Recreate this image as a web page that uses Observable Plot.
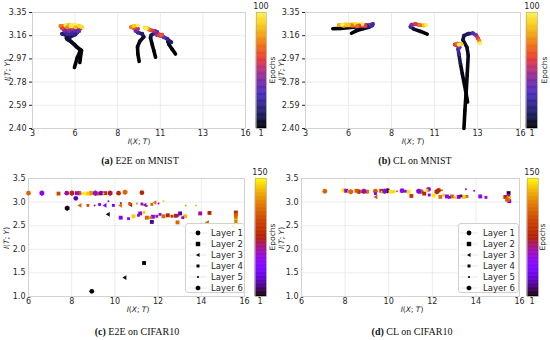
<!DOCTYPE html>
<html><head><meta charset="utf-8">
<script src="https://cdn.jsdelivr.net/npm/d3@7"></script>
<script src="https://cdn.jsdelivr.net/npm/@observablehq/plot@0.6"></script>
<style>
body{margin:0;background:#fff;}
#root{position:relative;width:550px;height:340px;overflow:hidden;font-family:"DejaVu Sans",sans-serif;background:#fff;}
.t{position:absolute;white-space:nowrap;transform:translate(-50%,-50%);color:#262626;line-height:1;}
.cap{font-family:"Liberation Serif",serif;font-size:10px;color:#111;}
.lg{position:absolute;border:1px solid #d0d0d0;border-radius:3px;background:rgba(255,255,255,0.9);box-sizing:border-box;}
.lgrow{position:absolute;left:0;width:100%;height:11px;font-size:8.5px;color:#262626;}
.lgrow span{white-space:nowrap;line-height:1;}
</style></head>
<body><div id="root"></div>
<script>
// ---------- tick labels ----------
const abXTicks = [3, 5.6, 8.2, 10.8, 13.4, 16];
const abYTicks = [2.40, 2.59, 2.78, 2.97, 3.16, 3.35];
const cdXTicks = [6, 8, 10, 12, 14, 16];
const cdYTicks = [1.0, 1.5, 2.0, 2.5, 3.0, 3.5];
const layerNames = ["Layer 1", "Layer 2", "Layer 3", "Layer 4", "Layer 5", "Layer 6"];
const captions = [["(a)", " E2E on MNIST"], ["(b)", " CL on MNIST"], ["(c)", " E2E on CIFAR10"], ["(d)", " CL on CIFAR10"]];

// ---------- (a) E2E on MNIST : trajectories ----------
const aLayer = [1,1,1,1,1,1,1,1,1,1,1,1,1,1,1,1,1,1,1,1,1,1,1,
  2,2,2,2,2,2,2,2,2,2,2,2,2,2,2,2,
  3,3,3,3,3,3,3,3,3,3,3,3,3,
  4,4,4,4,4,4,4,4,4,4,4,4,4,4,
  5,5,5,5,5,5,5,5,5,5,5,5];
const aX = [5.56,5.73,5.93,5.62,5.28,5.07,5.12,4.81,5.42,5.73,5.01,4.91,5.42,5.93,5.73,4.81,4.71,5.22,5.83,6.03,5.42,5.01,5.63,
  5.89,5.95,5.99,5.68,5.36,5.12,5.32,5.62,5.12,5.83,5.22,4.81,5.12,5.63,5.93,5.32,
  9.51,9.43,9.41,9.55,9.79,9.69,9.43,9.29,9.43,9.18,9.02,9.18,9.43,
  10.51,10.40,10.30,10.20,10.24,10.44,10.61,10.50,10.36,10.22,10.10,10.00,9.86,9.95,
  11.73,11.52,11.32,11.26,11.46,11.22,11.01,10.81,10.61,10.73,10.91,10.85];
const aY = [2.90,2.98,3.04,3.08,3.12,3.14,3.16,3.175,3.18,3.186,3.197,3.208,3.214,3.219,3.23,3.23,3.24,3.246,3.24,3.23,3.235,3.244,3.25,
  2.94,3.01,3.04,3.07,3.11,3.13,3.15,3.17,3.175,3.197,3.20,3.22,3.23,3.23,3.235,3.24,
  2.95,3.01,3.07,3.115,3.15,3.175,3.186,3.20,3.216,3.224,3.23,3.24,3.243,
  2.984,3.04,3.09,3.143,3.164,3.18,3.19,3.197,3.20,3.205,3.212,3.22,3.226,3.218,
  3.01,3.05,3.09,3.115,3.107,3.134,3.148,3.16,3.164,3.17,3.168,3.162];
const aEpoch = [1,2,3,4,5,7,10,18,24,30,36,42,48,55,62,68,74,84,90,93,96,98,100,
  1,2,3,4,6,9,12,18,25,35,45,60,75,85,95,100,
  1,2,3,5,7,14,25,38,50,65,75,90,100,
  1,2,3,6,10,20,30,42,52,62,72,85,95,100,
  1,2,4,8,14,22,35,45,52,58,62,66];

// ---------- (b) CL on MNIST : trajectories ----------
const bLayer = [1,1,1,1,1,1,1,1,1,1,1,1,1,1,1,
  2,2,2,2,2,2,2,2,2,
  3,3,3,3,3,3,3,3,3,
  4,4,4,4,4,4,4,4,4,4,4,4,4,4,
  5,5,5,5,5,5,5,5,5,5,5,5];
const bX = [4.65,5.12,5.72,6.33,6.73,7.07,6.93,6.59,6.23,5.82,5.32,5.02,5.42,6.02,6.47,
  5.78,6.06,6.47,6.83,7.03,6.63,6.12,5.62,5.22,
  10.36,9.96,9.55,9.35,9.41,9.65,9.89,10.16,10.30,
  12.58,12.64,12.72,12.78,12.84,12.76,12.52,12.58,12.84,13.12,13.32,13.42,13.50,13.54,
  12.80,12.68,12.48,12.37,12.27,12.23,12.31,12.17,12.03,12.17,12.43,12.27];
const bY = [3.217,3.22,3.228,3.233,3.24,3.255,3.25,3.247,3.244,3.244,3.241,3.247,3.252,3.255,3.252,
  3.18,3.20,3.217,3.23,3.244,3.24,3.24,3.247,3.25,
  3.173,3.195,3.214,3.233,3.25,3.255,3.247,3.244,3.247,
  2.40,2.55,2.71,2.85,3.00,3.065,3.125,3.16,3.176,3.18,3.163,3.14,3.12,3.098,
  2.617,2.71,2.85,2.93,3.01,3.05,3.065,3.08,3.087,3.095,3.09,3.085];
const bEpoch = [1,3,6,10,18,30,42,52,62,72,76,82,90,95,100,
  1,3,6,12,25,58,72,88,100,
  1,4,8,25,45,58,72,88,100,
  1,2,3,4,5,6,8,10,15,30,45,60,75,100,
  1,2,4,10,22,30,38,50,60,72,90,100];

// ---------- (c) E2E on CIFAR10 : points ----------
const cLayer = [1,6,2,1,6,2,1,4,2,1,6,2,1,4,2,6,1,6,1,5,
  1,6,3,4,5,4,3,5,4,5,3,4,3,5,4,3,5,4,3,5,5,5,3,
  2,4,2,4,2,4,2,4,2,2,4,4,2,2,4,2,4,2,4,2,2,2,2,3,5,
  2,2,4,2,4,2,4,3,5,
  2,3,1];
const cX = [6.00,6.62,7.39,7.77,8.01,8.24,8.35,8.55,8.73,8.89,9.09,9.19,9.36,9.32,9.55,9.78,10.17,10.47,11.25,9.47,
  8.19,7.79,8.39,8.75,9.06,9.29,9.55,9.70,9.93,10.27,10.27,10.68,10.74,11.02,11.25,11.40,11.48,11.71,11.86,12.02,12.25,13.28,9.70,
  10.27,10.63,10.86,11.09,11.17,11.35,11.48,11.66,11.76,11.71,11.94,12.09,12.25,12.45,12.64,12.82,12.91,13.02,13.14,13.25,12.90,13.95,14.38,14.29,13.75,
  15.60,15.60,15.60,15.60,15.60,15.60,15.57,15.49,15.60,
  11.35,10.47,8.93];
const cY = [3.19,3.19,3.18,3.19,3.19,3.19,3.19,3.18,3.18,3.19,3.19,3.18,3.19,3.18,3.19,3.19,3.19,3.21,3.20,3.18,
  3.08,2.87,2.93,2.93,2.93,2.95,2.93,3.02,2.93,2.98,2.93,2.97,2.94,2.97,2.96,2.94,2.92,2.95,2.99,2.97,3.02,2.93,2.74,
  2.67,2.65,2.70,2.72,2.76,2.78,2.67,2.67,2.69,2.58,2.70,2.74,2.70,2.72,2.70,2.71,2.72,2.76,2.67,2.70,2.57,2.76,2.77,2.57,2.93,
  2.78,2.73,2.68,2.64,2.59,2.54,2.50,2.49,2.44,
  1.71,1.40,1.11];
const cEpoch = [110,40,100,60,80,50,105,145,140,125,55,105,40,25,85,70,80,110,80,140,
  20,3,110,100,55,40,38,42,35,65,115,105,80,120,60,40,80,110,115,45,140,130,4,
  40,45,140,60,42,140,110,115,40,15,60,45,110,80,85,78,62,18,45,135,110,60,82,110,135,
  80,105,110,135,115,140,145,60,130,
  2,3,1];

// ---------- (d) CL on CIFAR10 : points ----------
const dLayer = [1,1,2,4,6,2,1,4,6,2,1,4,2,4,6,1,2,4,5,1,4,2,2,5,6,1,2,4,1,4,2,6,1,2,5,4,2,4,2,4,2,4,2,4,5,5,2,4,2,2,4,2,4,2,6,3,5];
const dX = [7.07,7.94,8.05,8.17,8.26,8.52,8.63,8.75,8.86,9.01,9.39,9.39,9.66,9.70,9.82,9.95,10.08,10.23,10.38,10.61,10.76,10.92,11.04,11.30,11.38,11.50,11.63,11.76,11.83,11.86,12.06,12.21,12.29,12.37,12.44,12.52,12.67,12.78,12.90,13.05,13.21,13.31,13.44,13.59,13.54,13.92,14.20,14.46,15.35,15.50,15.50,15.53,15.50,15.53,15.45,9.42,8.29];
const dY = [3.23,3.25,3.24,3.22,3.22,3.24,3.22,3.22,3.23,3.22,3.23,3.18,3.24,3.21,3.23,3.24,3.22,3.22,3.23,3.24,3.23,3.22,3.13,3.24,3.23,3.22,3.18,3.25,3.27,3.15,3.14,3.22,3.25,3.11,3.25,3.15,3.12,3.10,3.12,3.10,3.11,3.13,3.11,3.12,3.27,3.24,3.12,3.10,3.11,3.19,3.15,3.11,3.07,3.02,3.05,3.11,3.22];
const dEpoch = [110,145,40,140,110,105,85,110,55,115,105,40,80,140,45,5,145,140,110,45,40,145,90,115,40,110,80,140,45,40,145,80,85,115,105,140,45,42,110,140,45,15,140,110,42,40,45,42,85,3,45,140,145,40,110,105,145];

// ---------- colour maps ----------
const cmrColors = ["#000000","#1a1a55","#33268c","#4c2ebf","#7a2da8","#b33080","#ec3c34","#f06a14","#f0a010","#f7d21e","#fff250"];
const cmrInterp = d3.piecewise(d3.interpolateRgb, cmrColors);
const gnuInterp = t => d3.rgb(255*Math.sqrt(t), 255*t*t*t, 255*Math.max(0, Math.sin(2*Math.PI*t))).formatHex();

const root = document.getElementById("root");
function place(node, left, top) {
  node.style.position = "absolute"; node.style.left = left + "px"; node.style.top = top + "px";
  root.appendChild(node); return node;
}
function text(html, x, y, size, extra) {
  const d = document.createElement("div");
  d.className = "t"; d.innerHTML = html;
  d.style.left = x + "px"; d.style.top = y + "px"; d.style.fontSize = size + "px";
  if (extra) Object.assign(d.style, extra);
  root.appendChild(d); return d;
}
const baseStyle = {fontFamily: "DejaVu Sans, sans-serif", fontSize: "8px", color: "#262626", background: "transparent", overflow: "visible"};

function basePlot(o, marks) {
  return Plot.plot({
    width: o.w, height: o.h,
    marginLeft: o.mL, marginRight: o.mR, marginTop: o.mT, marginBottom: o.mB,
    x: {domain: o.xd, ticks: o.xt, tickFormat: o.xf, tickSize: 0, tickPadding: 2, label: null},
    y: {domain: o.yd, ticks: o.yt, tickFormat: o.yf, tickSize: o.ytsize, tickPadding: o.ytpad, label: null},
    color: {type: "linear", domain: [1, o.N], interpolate: o.interp},
    style: baseStyle,
    marks: [
      Plot.ruleX(o.xt, {stroke: "#e6e6e6", strokeWidth: 0.8}),
      Plot.ruleY(o.yt, {stroke: "#e6e6e6", strokeWidth: 0.8}),
      Plot.frame({stroke: "#cccccc", strokeWidth: 0.8}),
      ...marks
    ]
  });
}

function trajMarks(L, X, Y, E) {
  const idx = d3.range(X.length);
  return [
    Plot.line(idx, {x: i => X[i], y: i => Y[i], z: i => L[i], stroke: i => E[i], strokeWidth: 3.6, strokeLinecap: "round", strokeLinejoin: "round"}),
    Plot.dot(idx.filter(i => E[i] > 12), {x: i => X[i], y: i => Y[i], fill: i => E[i], r: 2})
  ];
}

const layerSym = ["circle", "square", "triangle", "square", "circle", "hexagon"];
const layerR = [2.4, 2.2, 1.7, 1.6, 1.0, 2.4];
function scatterMarks(L, X, Y, E) {
  const idx = d3.range(X.length);
  return [1, 2, 3, 4, 5, 6].map(k => Plot.dot(idx.filter(i => L[i] === k), {
    x: i => X[i], y: i => Y[i], fill: i => E[i], r: layerR[k-1], symbol: layerSym[k-1], rotate: k === 3 ? -90 : 0
  }));
}

function colorbar(left, top, w, h, N, interp) {
  const vals = d3.range(1, N);
  const p = Plot.plot({
    width: w, height: h, margin: 0,
    x: {domain: [0, 1], axis: null}, y: {domain: [1, N], axis: null},
    color: {type: "linear", domain: [1, N], interpolate: interp},
    style: {background: "transparent", overflow: "visible"},
    marks: [
      Plot.rect(vals, {x1: 0, x2: 1, y1: d => d, y2: d => d + 1, fill: d => d, stroke: d => d, strokeWidth: 0.5}),
      Plot.frame({stroke: "#aaaaaa", strokeWidth: 0.6})
    ]
  });
  place(p, left, top);
}

function legend(left, top, w, h, markX, textX) {
  const box = document.createElement("div");
  box.className = "lg"; box.style.width = w + "px"; box.style.height = h + "px";
  place(box, left, top);
  const shapes = [
    '<circle cx="10" cy="5" r="2.4"/>',
    '<rect x="7.8" y="2.8" width="4.4" height="4.4"/>',
    '<path d="M8,5 L11.5,3 L11.5,7 Z"/>',
    '<rect x="8.5" y="3.5" width="3" height="3"/>',
    '<circle cx="10" cy="5" r="1.1"/>',
    '<path d="M10,2.4 L12.3,3.7 L12.3,6.3 L10,7.6 L7.7,6.3 L7.7,3.7 Z"/>'
  ];
  layerNames.forEach((nm, i) => {
    const row = document.createElement("div");
    row.className = "lgrow";
    row.style.top = (3 + i * 11) + "px";
    row.innerHTML = `<svg width="20" height="10" style="position:absolute;left:${markX - 10}px;top:0.5px"><line x1="1" x2="19" y1="5" y2="5" stroke="#e3e3e3" stroke-width="0.8"/><g fill="#000">${shapes[i]}</g></svg><span style="position:absolute;left:${textX}px;top:1.5px">${nm}</span>`;
    box.appendChild(row);
  });
}

// ---------- panel (a) ----------
place(basePlot({w: 250, h: 150, mL: 32, mR: 5, mT: 12, mB: 22, xd: [3, 16], yd: [2.40, 3.35],
  xt: abXTicks, yt: abYTicks, xf: d3.format(".0f"), yf: d3.format(".2f"), ytsize: 3, ytpad: 3, N: 100, interp: cmrInterp},
  trajMarks(aLayer, aX, aY, aEpoch)), 0, 0);
// ---------- panel (b) ----------
place(basePlot({w: 250, h: 150, mL: 30, mR: 5, mT: 12, mB: 22, xd: [3, 16], yd: [2.40, 3.35],
  xt: abXTicks, yt: abYTicks, xf: d3.format(".0f"), yf: d3.format(".2f"), ytsize: 3, ytpad: 3, N: 100, interp: cmrInterp},
  trajMarks(bLayer, bX, bY, bEpoch)), 275, 0);
// ---------- panel (c) ----------
place(basePlot({w: 250, h: 150, mL: 28, mR: 6, mT: 12, mB: 20, xd: [6, 16], yd: [1.0, 3.5],
  xt: cdXTicks, yt: cdYTicks, xf: d3.format(".0f"), yf: d3.format(".1f"), ytsize: 0, ytpad: 3, N: 150, interp: gnuInterp},
  scatterMarks(cLayer, cX, cY, cEpoch)), 0, 166);
// ---------- panel (d) ----------
place(basePlot({w: 250, h: 150, mL: 26, mR: 6, mT: 12, mB: 20, xd: [6, 16], yd: [1.0, 3.5],
  xt: cdXTicks, yt: cdYTicks, xf: d3.format(".0f"), yf: d3.format(".1f"), ytsize: 0, ytpad: 3, N: 150, interp: gnuInterp},
  scatterMarks(dLayer, dX, dY, dEpoch)), 275, 166);

// legends
legend(185, 223, 60, 70, 12, 25);
legend(458, 223, 61, 70, 10, 24);

// colour bars
colorbar(256, 12, 10, 116, 100, cmrInterp);
colorbar(526, 12, 11, 116, 100, cmrInterp);
colorbar(255, 178, 11, 118, 150, gnuInterp);
colorbar(527, 178, 11, 118, 150, gnuInterp);

// colour bar labels
text("100", 261, 7, 8); text("1", 261, 134, 8); text("Epochs", 273, 70, 7.5, {transform: "translate(-50%,-50%) rotate(-90deg)"});
text("100", 532, 7, 8); text("1", 532, 134, 8); text("Epochs", 545, 70, 7.5, {transform: "translate(-50%,-50%) rotate(-90deg)"});
text("150", 260, 173, 8); text("1", 260, 302, 8); text("Epochs", 273, 237, 7.5, {transform: "translate(-50%,-50%) rotate(-90deg)"});
text("150", 532, 173, 8); text("1", 532, 302, 8); text("Epochs", 543, 237, 7.5, {transform: "translate(-50%,-50%) rotate(-90deg)"});

// axis titles
const xl = "<i>I</i>(<i>X</i>; <i>T</i>)", yl = "<i>I</i>(<i>T</i>; <i>Y</i>)";
text(xl, 139, 142, 7.5); text(xl, 413, 142, 7.5);
text(xl, 138, 310, 7.5); text(xl, 412, 310, 7.5);
const rot = {transform: "translate(-50%,-50%) rotate(-90deg)"};
text(yl, 8, 70, 7.5, rot); text(yl, 282, 70, 7.5, rot);
text(yl, 7, 238, 7.5, rot); text(yl, 282, 238, 7.5, rot);

// captions
const capPos = [[140, 161], [415, 161], [137, 332], [412, 332]];
captions.forEach((c, i) => {
  const d = text(`<b>${c[0]}</b>${c[1]}`, capPos[i][0], capPos[i][1], 10);
  d.classList.add("cap");
});
</script>
</body></html>
